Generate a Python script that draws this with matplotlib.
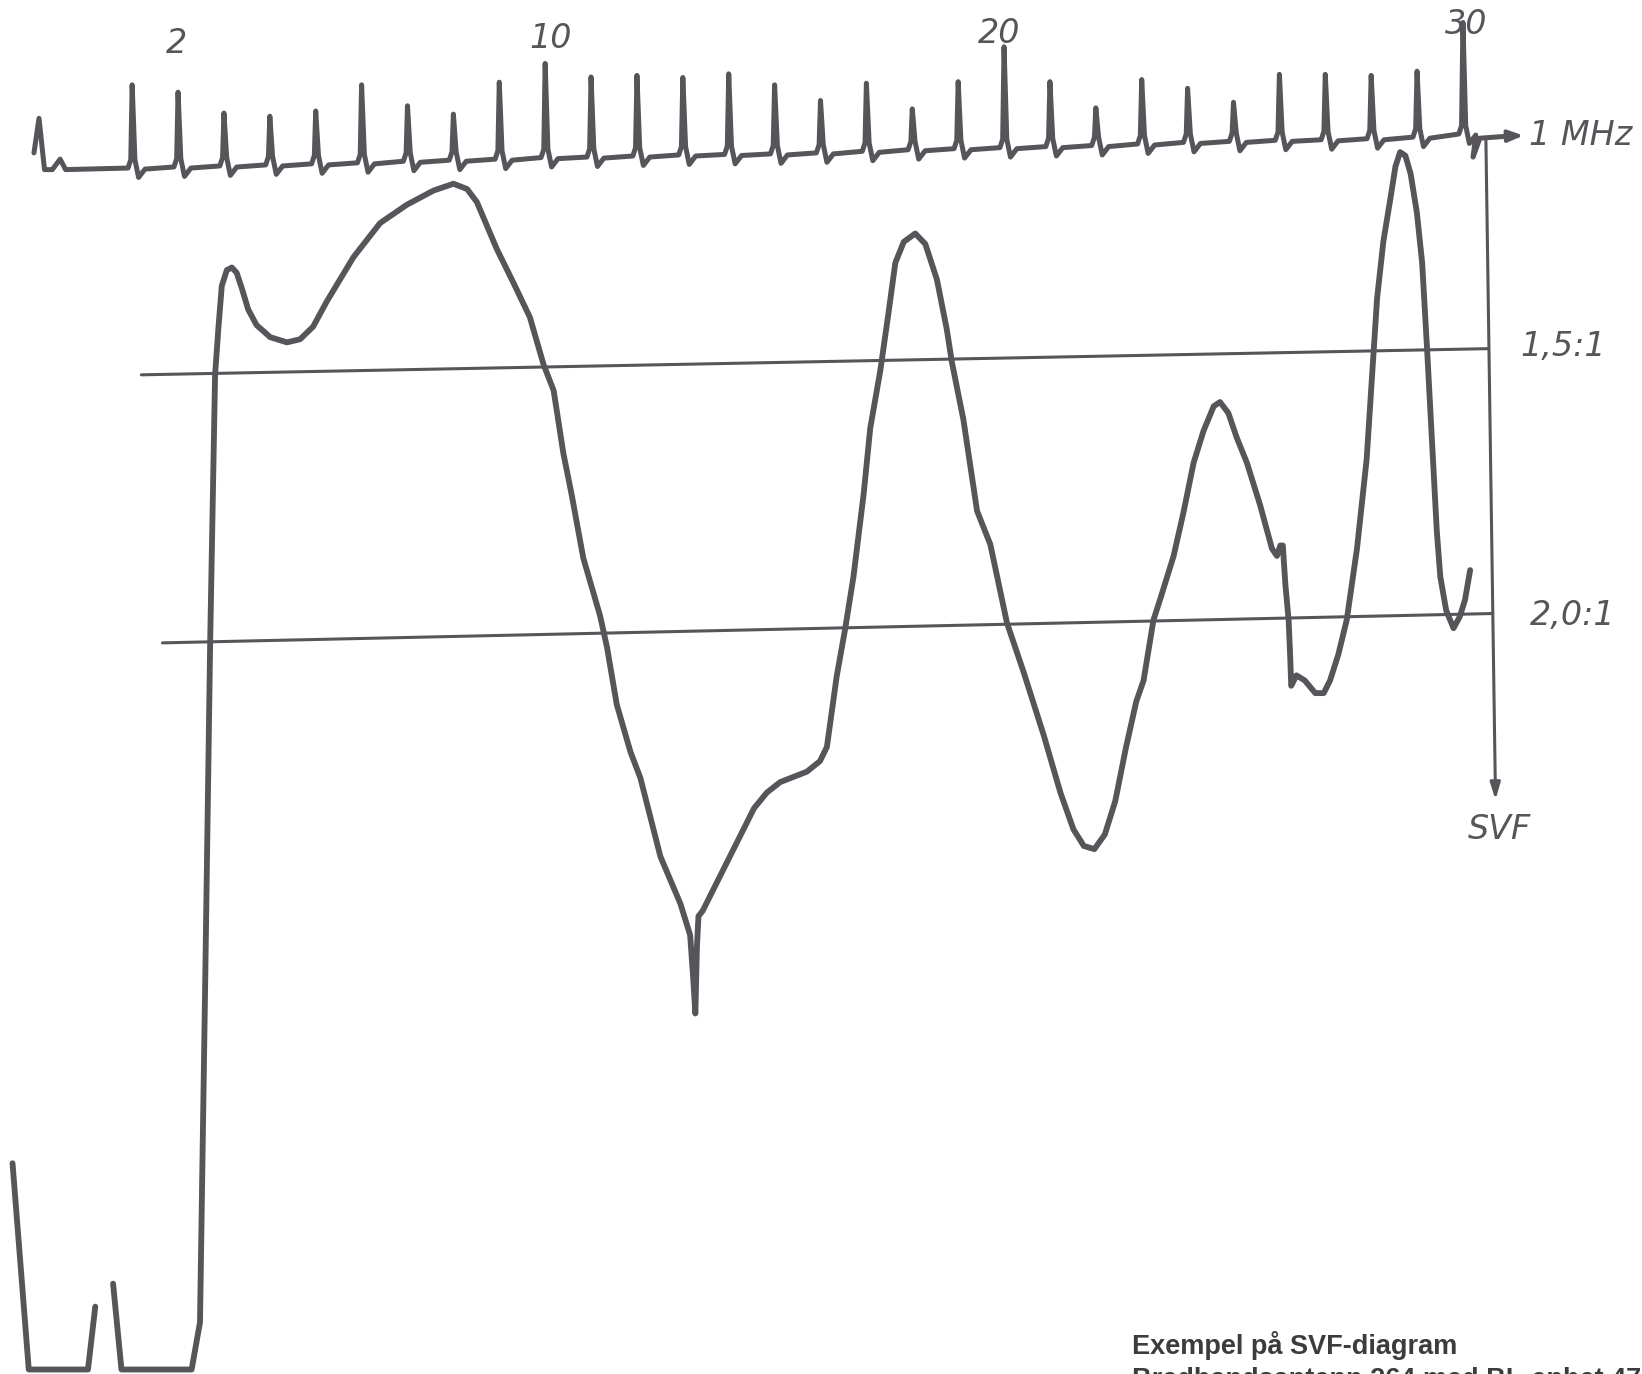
import matplotlib
matplotlib.use("Agg")
import matplotlib.pyplot as plt

# --- data (x in MHz, y = downward deflection) ---

# frequency markers (1 MHz pips) and their tip / baseline levels
marker_mhz = list(range(1, 31))
marker_tip = [81, 88, 108, 111, 106, 81, 101, 109, 78.5, 60.6,
              73.5, 72, 74, 70.5, 81, 96, 79.5, 104, 78, 44.7,
              78, 103, 76, 84.4, 97.7, 71, 71, 72, 68, 21.5]
marker_base = [160.5, 159.5, 158.5, 157.5, 156.5, 155.5, 154, 153, 152, 150.5,
               150, 149, 148, 147.5, 147, 146, 144.5, 143, 142, 141,
               140, 139, 137.5, 136, 135, 134, 133.5, 132.5, 131, 128]

# sweep start blip and the end of the marker line
lead_mhz = [-1.14, -1.03, -0.91, -0.74, -0.57, -0.45]
lead_y = [146, 113, 162, 162, 152, 162]
tail_mhz = [30.22, 30.37, 31.0]
tail_y = [150, 132, 130]

# SVF trace, first short piece (band start)
piece_a_mhz = [-1.607, -1.253, 0.037, 0.196]
piece_a_y = [1111, 1308, 1308, 1248]

# SVF trace, main curve
svf_mhz = [0.584, 0.767, 2.296, 2.478, 2.592, 2.700, 2.807, 2.880, 2.953, 3.063,
           3.172, 3.277, 3.391, 3.528, 3.711, 4.007, 4.373, 4.660, 4.943, 5.240,
           5.824, 6.404, 6.988, 7.567, 8.001, 8.298, 8.512, 8.948, 9.313, 9.667,
           9.964, 10.185, 10.397, 10.580, 10.831, 11.196, 11.347, 11.561, 11.858, 12.075,
           12.511, 12.946, 13.159, 13.227, 13.273, 13.307, 13.341, 13.432, 13.752, 14.094,
           14.322, 14.551, 14.831, 15.121, 15.703, 15.988, 16.139, 16.353, 16.536, 16.718,
           16.940, 17.084, 17.303, 17.483, 17.631, 17.814, 18.065, 18.284, 18.537, 18.750,
           18.864, 19.115, 19.412, 19.701, 20.064, 20.427, 20.863, 21.228, 21.511, 21.739,
           21.968, 22.196, 22.424, 22.652, 22.881, 23.040, 23.257, 23.405, 23.695, 23.907,
           24.131, 24.347, 24.569, 24.706, 24.888, 25.071, 25.292, 25.584, 25.838, 25.947,
           26.020, 26.075, 26.130, 26.201, 26.235, 26.258, 26.372, 26.555, 26.783, 26.966,
           27.103, 27.285, 27.468, 27.691, 27.901, 28.054, 28.129, 28.266, 28.419, 28.529,
           28.631, 28.746, 28.860, 28.996, 29.111, 29.218, 29.327, 29.430, 29.507, 29.635,
           29.795, 29.931, 30.045, 30.157]
svf_y = [1226, 1308, 1308, 1263, 937, 613, 358, 313, 273, 258,
         255.5, 260.5, 275.5, 295.5, 310.5, 322, 327, 324, 312, 288,
         245.5, 213, 195.5, 182, 175.5, 180.5, 193, 238, 270.5, 303,
         348, 373, 433, 473, 533, 588, 618, 673, 718, 743,
         818, 863, 893, 935, 968, 905, 875, 870, 842, 812,
         792, 772, 757, 747, 737, 727, 713.5, 646, 601, 551,
         472, 409, 354, 298.5, 251, 231, 223, 233, 267, 314,
         346, 401, 488, 520, 595, 642, 702, 757, 792, 808,
         811, 797, 765, 715, 670, 650, 592, 572, 531, 490,
         442, 411.5, 388, 384, 394.5, 418, 442, 483, 524, 531,
         521, 521, 558, 592, 626.5, 655, 645, 650, 662, 662,
         650, 625, 592, 524, 439, 336.5, 285, 230.6, 189.7, 159,
         145.3, 148.7, 166, 203, 251, 333, 422, 507, 551, 583,
         600, 589, 573, 544.5]

# reference lines (SVF 1,5:1 and 2,0:1)
ref_labels = ["1,5:1", "2,0:1"]
ref_start_mhz = [1.20, 1.66]
ref_end_mhz = [30.55, 30.62]
ref_start_y = [358, 614]
ref_end_y = [333, 586]
ref_label_mhz = [32.19, 32.40]
ref_label_y = [331, 588]

# vertical SVF axis
svf_axis_mhz = [30.50, 30.71]
svf_axis_y = [132, 764]

# frequency labels above the markers
freq_labels = ["2", "10", "20", "30"]
freq_label_mhz = [1.96, 10.12, 19.89, 30.07]
freq_label_y = [42, 36.5, 32, 23]

caption = ["Exempel på SVF-diagram", "Bredbandsantenn 264 med BL-enhet 477"]

# --------------------------
# figure
# --------------------------
INK = "#57545a"
HAND = dict(family="DejaVu Sans", style="italic", color=INK, fontsize=24)

fig = plt.figure(figsize=(16.42, 13.74), dpi=100)
fig.patch.set_facecolor("white")
ax = fig.add_axes([0, 0, 1, 1])
ax.set_xlim(-1.880, 33.902)
ax.set_ylim(1312.3, 0)
ax.axis("off")

line_kw = dict(color=INK, solid_joinstyle="round", solid_capstyle="round")

# marker line: baseline with a sharp pip at every MHz
mk_x, mk_y = list(lead_mhz), list(lead_y)
for f, tip, b in zip(marker_mhz, marker_tip, marker_base):
    mk_x += [f - 0.09, f - 0.03, f, f + 0.06, f + 0.14, f + 0.28]
    mk_y += [b, b - 8, tip, b - 8, b + 9, b + 1]
mk_x += tail_mhz
mk_y += tail_y
ax.plot(mk_x, mk_y, lw=3.6, zorder=3, **line_kw)
ax.annotate("", xy=(31.32, 129.5), xytext=(tail_mhz[-1] - 0.05, tail_y[-1]),
            arrowprops=dict(arrowstyle="-|>,head_length=0.9,head_width=0.35",
                            color=INK, lw=2.8, shrinkA=0, shrinkB=0))

# reference lines
for lab, f0, f1, y0, y1, lf, ly in zip(ref_labels, ref_start_mhz, ref_end_mhz,
                                       ref_start_y, ref_end_y, ref_label_mhz, ref_label_y):
    ax.plot([f0, f1], [y0, y1], lw=2.2, zorder=2, **line_kw)
    ax.text(lf, ly, lab, ha="center", va="center", **HAND)

# SVF axis with arrow pointing down
ax.annotate("", xy=(svf_axis_mhz[1], svf_axis_y[1]), xytext=(svf_axis_mhz[0], svf_axis_y[0]),
            arrowprops=dict(arrowstyle="-|>,head_length=1.0,head_width=0.3",
                            color=INK, lw=2.2, shrinkA=0, shrinkB=0))
ax.text(30.80, 792, "SVF", ha="center", va="center", **HAND)

# the SVF trace
ax.plot(piece_a_mhz, piece_a_y, lw=4.2, zorder=4, **line_kw)
ax.plot(svf_mhz, svf_y, lw=4.2, zorder=4, **line_kw)

# labels
for lab, f, y in zip(freq_labels, freq_label_mhz, freq_label_y):
    ax.text(f, y, lab, ha="center", va="center", zorder=1, **HAND)
ax.text(31.44, 129, "1 MHz", ha="left", va="center", **HAND)

# caption: second line runs off the bottom edge, as in the scan
cap_kw = dict(family=["Liberation Sans", "DejaVu Sans"], weight="bold",
              color="#3c3c3c", fontsize=19.5, ha="left", va="baseline")
ax.text(22.79, 1293, caption[0], **cap_kw)
ax.text(22.79, 1325, caption[1], **cap_kw)

fig.savefig("out.png", dpi=100, facecolor="white")
plt.close(fig)
